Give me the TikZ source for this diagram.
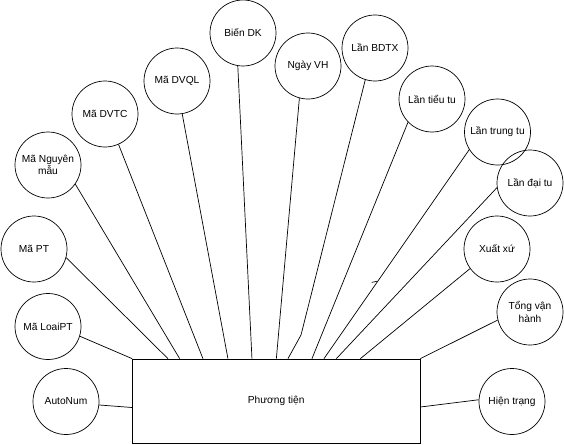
\documentclass[tikz,border=0pt]{standalone}
\usepackage{fontspec}
\setmainfont{Liberation Sans}
\begin{document}
\begin{tikzpicture}[x=1pt,y=-1pt,
  attr/.style={circle,draw,line width=0.7pt,minimum size=66pt,inner sep=0pt,align=center,font=\fontsize{10.2}{12.5}\selectfont},
  ent/.style={draw,line width=0.7pt,minimum width=287.5pt,minimum height=84pt,inner sep=0pt,font=\fontsize{10.2}{12.5}\selectfont},
  conn/.style={line width=0.7pt}]
\useasboundingbox (0,0) rectangle (564,444);
\node[ent] (pt) at (276.25,401) {Phương tiện};
\node[attr] (bien) at (243,33) {Biến DK};
\node[attr] (dvql) at (177,81) {Mã DVQL};
\node[attr] (dvtc) at (105,114) {Mã DVTC};
\node[attr] (ngmau) at (48,165) {Mã Nguyên\\mẫu};
\node[attr] (mapt) at (34,249) {Mã PT};
\node[attr] (loai) at (48,326.5) {Mã LoaiPT};
\node[attr] (auto) at (66,401.5) {AutoNum};
\node[attr] (ngay) at (308,66) {Ngày VH};
\node[attr] (bdtx) at (375,48) {Lần BDTX};
\node[attr] (tieu) at (432,99) {Lần tiểu tu};
\node[attr] (trung) at (497.5,132) {Lần trung tu};
\node[attr] (dai) at (530,183) {Lần đại tu};
\node[attr] (xx) at (497,249) {Xuất xứ};
\node[attr] (tong) at (530,312) {Tổng vận\\hành};
\node[attr] (ht) at (512,401.5) {Hiện trạng};
\coordinate (kink) at (301,335);
\coordinate (tickA) at (371.7,282.4);
\coordinate (tickB) at (377.3,281.2);
\draw[conn] (auto.-6) -- ([yshift=-6.5pt]pt.west);
\draw[conn] (loai.-17) -- (pt.north west);
\draw[conn] (mapt.-15) -- ([xshift=35.8pt]pt.north west);
\draw[conn] (ngmau.-35) -- ([xshift=47.5pt]pt.north west);
\draw[conn] (dvtc.-66) -- ([xshift=70.8pt]pt.north west);
\draw[conn] (dvql.-81) -- ([xshift=95.8pt]pt.north west);
\draw[conn] (bien.-99) -- ([xshift=119.8pt]pt.north west);
\draw[conn] (ngay.-105) -- ([xshift=144.2pt]pt.north west);
\draw[conn] (bdtx.-107) -- (kink) -- ([xshift=155.8pt]pt.north west);
\draw[conn] (tieu.-136) -- ([xshift=179.8pt]pt.north west);
\draw[conn] (trung.-148) -- ([xshift=191.8pt]pt.north west);
\draw[conn] (dai.-172) -- ([xshift=204.2pt]pt.north west);
\draw[conn] (xx.-144) -- ([xshift=228.2pt]pt.north west);
\draw[conn] (tong.-166) -- (pt.north east);
\draw[conn] (ht.177) -- ([yshift=-6pt]pt.east);
\draw[conn] (tickA) -- (tickB);
\end{tikzpicture}
\end{document}
